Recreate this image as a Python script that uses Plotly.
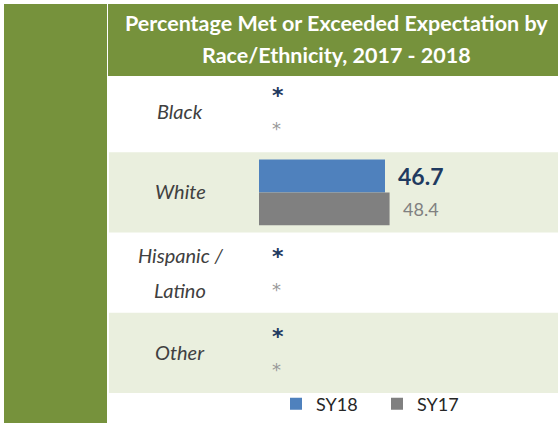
import plotly.graph_objects as go

# ---- data ----
categories = ["Black", "White", "Hispanic / Latino", "Other"]
category_lines = [["Black"], ["White"], ["Hispanic /", "Latino"], ["Other"]]
series_names = ["SY18", "SY17"]
sy18_values = [None, 46.7, None, None]
sy17_values = [None, 48.4, None, None]
sy18_labels = ["*", "46.7", "*", "*"]
sy17_labels = ["*", "48.4", "*", "*"]
title_lines = ["Percentage Met or Exceeded Expectation by", "Race/Ethnicity, 2017 - 2018"]

# ---- style ----
W, H = 558, 423
FONT = "Lato"
GREEN = "#76923C"
LIGHT = "#EAEFDE"
BLUE = "#4F81BD"
GRAY = "#808080"
NAVY = "#1F3A60"
BARGAP = 0.18


def px_x(p):
    return p / W


def px_y(p):
    return 1 - p / H


fig = go.Figure()
fig.add_trace(go.Bar(y=categories, x=sy18_values, orientation="h", name=series_names[0],
                     marker=dict(color=BLUE, line=dict(width=0))))
fig.add_trace(go.Bar(y=categories, x=sy17_values, orientation="h", name=series_names[1],
                     marker=dict(color=GRAY, line=dict(width=0))))

shapes = [
    dict(type="rect", xref="paper", yref="paper", x0=px_x(4), x1=px_x(107), y0=0, y1=px_y(4),
         fillcolor=GREEN, line=dict(width=0)),
    dict(type="rect", xref="paper", yref="paper", x0=px_x(108), x1=1, y0=px_y(76), y1=px_y(4),
         fillcolor=GREEN, line=dict(width=0)),
]
for i in range(len(categories)):
    if i % 2 == 1:
        shapes.append(dict(type="rect", xref="paper", yref="y", x0=px_x(109), x1=1,
                           y0=i - 0.5, y1=i + 0.5, fillcolor=LIGHT, line=dict(width=0),
                           layer="below"))

annotations = []
# title
for k, line in enumerate(title_lines):
    annotations.append(dict(xref="paper", yref="paper", x=px_x(336), y=px_y([23, 55][k]),
                            text=line, showarrow=False, xanchor="center", yanchor="middle",
                            font=dict(family=FONT, size=21.5, color="white", weight="bold")))
# category labels
for i, lines in enumerate(category_lines):
    shifts = [0] if len(lines) == 1 else [17, -18]
    for line, sh in zip(lines, shifts):
        annotations.append(dict(xref="paper", yref="y", x=px_x(180), y=i, yshift=sh + 1,
                                text=line, showarrow=False, xanchor="center", yanchor="middle",
                                font=dict(family=FONT, size=20, color="#404040", style="italic")))
# value labels
off = (1 - BARGAP) / 4
for vals, labs, sign, numfont, starfont in [
    (sy18_values, sy18_labels, -1,
     dict(family=FONT, size=23, color=NAVY, weight="bold"),
     dict(family="DejaVu Sans", size=22, color=NAVY, weight="bold")),
    (sy17_values, sy17_labels, 1,
     dict(family=FONT, size=18, color=GRAY),
     dict(family="DejaVu Sans", size=18, color="#999999")),
]:
    for i, (v, t) in enumerate(zip(vals, labs)):
        annotations.append(dict(xref="x", yref="y", x=v if v is not None else 0, y=i + sign * off,
                                text=t, showarrow=False, xanchor="left", yanchor="middle",
                                xshift=11, font=numfont if v is not None else starfont))

fig.update_layout(
    width=W, height=H,
    margin=dict(l=0, r=0, t=0, b=0),
    paper_bgcolor="white", plot_bgcolor="rgba(0,0,0,0)",
    barmode="group", bargap=BARGAP, bargroupgap=0,
    xaxis=dict(domain=[px_x(259), 1], range=[0, (W - 259) / 2.698], visible=False,
               fixedrange=True),
    yaxis=dict(domain=[px_y(393), px_y(72)], range=[3.5, -0.5], type="category",
               categoryorder="array", categoryarray=categories, visible=False, fixedrange=True),
    shapes=shapes,
    annotations=annotations,
    showlegend=True,
    legend=dict(orientation="h", x=px_x(276), y=px_y(404), xanchor="left", yanchor="middle",
                traceorder="normal", entrywidth=56, entrywidthmode="pixels",
                bgcolor="rgba(0,0,0,0)", font=dict(family=FONT, size=18, color="#262626")),
)

fig.write_html("out.html", config={"displayModeBar": False},
               post_script="document.body.style.margin='0';")
